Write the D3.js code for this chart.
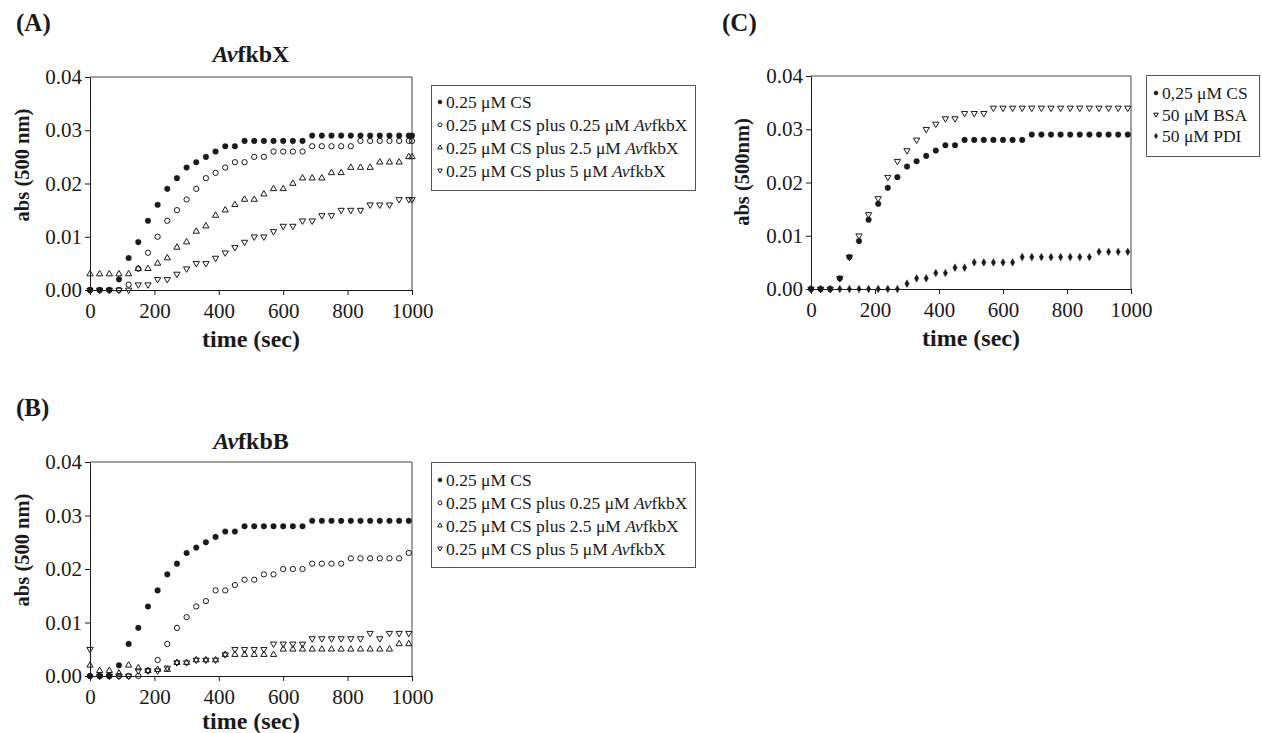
<!DOCTYPE html>
<html>
<head>
<meta charset="utf-8">
<script src="https://cdn.jsdelivr.net/npm/d3@7.9.0/dist/d3.min.js"></script>
<style>
  body { margin: 0; background: #fff; }
  svg { font-family: "Liberation Serif", "Times New Roman", serif; }
</style>
</head>
<body>
<svg id="chart" width="1262" height="733"></svg>
<script>
// sampling times (sec)
const times = [0, 30, 60, 90, 120, 150, 180, 210, 240, 270, 300, 330, 360, 390, 420, 450, 480,
  510, 540, 570, 600, 630, 660, 690, 720, 750, 780, 810, 840, 870, 900, 930, 960, 990];
const timesA = [0, 30, 60, 90, 120, 150, 180, 210, 240, 270, 300, 330, 360, 390, 420, 450, 480,
  510, 540, 570, 600, 630, 660, 690, 720, 750, 780, 810, 840, 870, 900, 930, 960, 990, 1000];

const xTicks = [0, 200, 400, 600, 800, 1000];
const yTicks = [0, 0.01, 0.02, 0.03, 0.04];

// (A) AvfkbX
const aCS = [0, 0, 0, 0.002, 0.006, 0.009, 0.013, 0.016, 0.019, 0.021, 0.023, 0.024, 0.025, 0.026, 0.027, 0.027,
  0.028, 0.028, 0.028, 0.028, 0.028, 0.028, 0.028,
  0.029, 0.029, 0.029, 0.029, 0.029, 0.029, 0.029, 0.029, 0.029, 0.029, 0.029, 0.029];
const aX025 = [0, 0, 0, 0, 0.001, 0.004, 0.007, 0.010, 0.013, 0.015, 0.017, 0.019, 0.021, 0.022, 0.023, 0.024,
  0.024, 0.025, 0.025, 0.026, 0.026, 0.026, 0.026, 0.027, 0.027, 0.027, 0.027, 0.027,
  0.028, 0.028, 0.028, 0.028, 0.028, 0.028, 0.028];
const aX25 = [0.003, 0.003, 0.003, 0.003, 0.003, 0.004, 0.004, 0.005, 0.006, 0.008, 0.009, 0.011, 0.012, 0.014,
  0.015, 0.016, 0.017, 0.017, 0.018, 0.019, 0.019, 0.020, 0.021, 0.021, 0.021, 0.022, 0.022, 0.023, 0.023,
  0.023, 0.024, 0.024, 0.024, 0.025, 0.025];
const aX5 = [0, 0, 0, 0, 0, 0.001, 0.001, 0.002, 0.002, 0.003, 0.004, 0.005, 0.005, 0.006, 0.007, 0.008, 0.009,
  0.010, 0.010, 0.011, 0.012, 0.012, 0.013, 0.013, 0.014, 0.014, 0.015, 0.015, 0.015, 0.016, 0.016, 0.016,
  0.017, 0.017, 0.017];

// (B) AvfkbB
const bCS = [0, 0, 0, 0.002, 0.006, 0.009, 0.013, 0.016, 0.019, 0.021, 0.023, 0.024, 0.025, 0.026, 0.027, 0.027,
  0.028, 0.028, 0.028, 0.028, 0.028, 0.028, 0.028,
  0.029, 0.029, 0.029, 0.029, 0.029, 0.029, 0.029, 0.029, 0.029, 0.029, 0.029];
const bX025 = [0, 0, 0, 0, 0, 0, 0.001, 0.003, 0.006, 0.009, 0.011, 0.013, 0.014, 0.016, 0.016, 0.017, 0.018,
  0.018, 0.019, 0.019, 0.020, 0.020, 0.020, 0.021, 0.021, 0.021, 0.021,
  0.022, 0.022, 0.022, 0.022, 0.022, 0.022, 0.023];
const bX25 = [0.002, 0.001, 0.001, 0.0005, 0.002, 0.0015, 0.001, 0.0012, 0.0012, 0.0025, 0.0025, 0.003, 0.003,
  0.003, 0.004, 0.004, 0.004, 0.004, 0.004, 0.004, 0.005, 0.005, 0.005, 0.005, 0.005, 0.005, 0.005, 0.005,
  0.005, 0.005, 0.005, 0.005, 0.006, 0.006];
const bX5 = [0.005, 0, 0, 0, 0, 0.001, 0.001, 0.001, 0.0015, 0.0025, 0.0025, 0.003, 0.003, 0.003, 0.004,
  0.005, 0.005, 0.005, 0.005, 0.006, 0.006, 0.006, 0.006, 0.007, 0.007, 0.007, 0.007, 0.007, 0.007,
  0.008, 0.007, 0.008, 0.008, 0.008];

// (C) controls
const cCS = [0, 0, 0, 0.002, 0.006, 0.009, 0.013, 0.016, 0.019, 0.021, 0.023, 0.024, 0.025, 0.026, 0.027, 0.027,
  0.028, 0.028, 0.028, 0.028, 0.028, 0.028, 0.028,
  0.029, 0.029, 0.029, 0.029, 0.029, 0.029, 0.029, 0.029, 0.029, 0.029, 0.029];
const cBSA = [0, 0, 0, 0.002, 0.006, 0.010, 0.014, 0.017, 0.021, 0.024, 0.026, 0.028, 0.030, 0.031, 0.032, 0.032,
  0.033, 0.033, 0.033, 0.034, 0.034, 0.034, 0.034, 0.034, 0.034, 0.034, 0.034, 0.034, 0.034, 0.034,
  0.034, 0.034, 0.034, 0.034];
const cPDI = [0, 0, 0, 0, 0, 0, 0, 0, 0, 0, 0.001, 0.002, 0.002, 0.003, 0.003, 0.004, 0.004,
  0.005, 0.005, 0.005, 0.005, 0.005, 0.006, 0.006, 0.006, 0.006, 0.006, 0.006, 0.006, 0.006,
  0.007, 0.007, 0.007, 0.007];

const labelsX = ['0.25 μM CS', '0.25 μM CS plus 0.25 μM AvfkbX',
  '0.25 μM CS plus 2.5 μM AvfkbX', '0.25 μM CS plus 5 μM AvfkbX'];
const labelsC = ['0,25 μM CS', '50 μM BSA', '50 μM PDI'];

const svg = d3.select('#chart');
const ink = '#1a1a1a';

// marker styles
const markers = {
  dot:  { type: d3.symbolCircle, size: 25, fill: true, rot: 0 },
  ring: { type: d3.symbolCircle, size: 22, fill: false, rot: 0 },
  up:   { type: d3.symbolTriangle, size: 17, fill: false, rot: 0 },
  down: { type: d3.symbolTriangle, size: 17, fill: false, rot: 180 },
  diam: { type: d3.symbolDiamond, size: 17, fill: true, rot: 0 }
};

function drawMark(g, m, x, y, scale = 1) {
  g.append('path')
    .attr('d', d3.symbol().type(m.type).size(m.size * scale)())
    .attr('transform', `translate(${x},${y}) rotate(${m.rot})`)
    .attr('fill', m.fill ? ink : 'none')
    .attr('stroke', ink)
    .attr('stroke-width', m.fill ? 0.4 : 1);
}

// text with "Av" in italics
function richText(sel, str) {
  str.split(/(Av)/).filter(s => s).forEach(s => {
    sel.append('tspan').text(s).attr('font-style', s === 'Av' ? 'italic' : null);
  });
}

const panels = [
  {
    box: [90, 412, 77, 290], times: timesA, xTitleOff: 57,
    series: [[aX5, 'down'], [aX25, 'up'], [aX025, 'ring'], [aCS, 'dot']],
    tag: '(A)', tagPos: [16, 31], title: 'AvfkbX', titleY: 62,
    yTitle: 'abs (500 nm)', yTitlePos: [22, 165],
    legend: { x: 431, y: 85, w: 264, h: 105, row0: 102, step: 22.8, mx: 440, tx: 446,
      items: [[labelsX[0], 'dot'], [labelsX[1], 'ring'], [labelsX[2], 'up'], [labelsX[3], 'down']] }
  },
  {
    box: [90, 412, 462, 676], times: times, xTitleOff: 53,
    series: [[bX5, 'down'], [bX25, 'up'], [bX025, 'ring'], [bCS, 'dot']],
    tag: '(B)', tagPos: [16, 416], title: 'AvfkbB', titleY: 449,
    yTitle: 'abs (500 nm)', yTitlePos: [22, 550],
    legend: { x: 431, y: 462, w: 264, h: 105, row0: 480, step: 22.8, mx: 440, tx: 446,
      items: [[labelsX[0], 'dot'], [labelsX[1], 'ring'], [labelsX[2], 'up'], [labelsX[3], 'down']] }
  },
  {
    box: [811, 1131, 76, 289], times: times, xTitleOff: 57,
    series: [[cBSA, 'down'], [cPDI, 'diam'], [cCS, 'dot']],
    tag: '(C)', tagPos: [722, 31], title: null,
    yTitle: 'abs (500nm)', yTitlePos: [742, 172],
    legend: { x: 1146, y: 75, w: 113, h: 81, row0: 93, step: 21.5, mx: 1156, tx: 1162,
      items: [[labelsC[0], 'dot'], [labelsC[1], 'down'], [labelsC[2], 'diam']] }
  }
];

panels.forEach(p => {
  const [x0, x1, y0, y1] = p.box;
  const x = d3.scaleLinear().domain([0, 1000]).range([x0, x1]);
  const y = d3.scaleLinear().domain([0, 0.04]).range([y1, y0]);
  const g = svg.append('g');

  // frame (top and right)
  g.append('path')
    .attr('d', `M${x0},${y0}H${x1}V${y1}`)
    .attr('fill', 'none').attr('stroke', '#444').attr('stroke-width', 1);

  const xAxis = g.append('g')
    .attr('transform', `translate(0,${y1})`)
    .call(d3.axisBottom(x).tickValues(xTicks).tickFormat(d3.format('d'))
      .tickSize(5).tickPadding(8).tickSizeOuter(0));
  const yAxis = g.append('g')
    .attr('transform', `translate(${x0},0)`)
    .call(d3.axisLeft(y).tickValues(yTicks).tickFormat(d3.format('.2f'))
      .tickSize(5).tickPadding(3).tickSizeOuter(0));
  [xAxis, yAxis].forEach(a => {
    a.select('.domain').attr('stroke', ink);
    a.selectAll('.tick line').attr('stroke', ink);
    a.selectAll('text').attr('font-size', 21).attr('fill', ink)
      .attr('font-family', '"Liberation Serif", serif');
  });

  // data marks
  p.series.forEach(([vals, key]) => {
    const sg = g.append('g');
    vals.forEach((v, i) => drawMark(sg, markers[key], x(p.times[i]), y(v)));
  });

  // axis titles
  g.append('text')
    .attr('x', (x0 + x1) / 2).attr('y', y1 + p.xTitleOff)
    .attr('text-anchor', 'middle').attr('font-size', 24).attr('font-weight', 'bold').attr('fill', ink)
    .text('time (sec)');
  g.append('text')
    .attr('transform', `translate(${p.yTitlePos[0]},${p.yTitlePos[1]}) rotate(-90)`)
    .attr('dy', '0.35em')
    .attr('text-anchor', 'middle').attr('font-size', 20.5).attr('font-weight', 'bold').attr('fill', ink)
    .text(p.yTitle);

  g.append('text')
    .attr('x', p.tagPos[0]).attr('y', p.tagPos[1])
    .attr('font-size', 25).attr('font-weight', 'bold').attr('fill', ink)
    .text(p.tag);

  if (p.title) {
    const t = g.append('text')
      .attr('x', (x0 + x1) / 2).attr('y', p.titleY)
      .attr('text-anchor', 'middle').attr('font-size', 24).attr('font-weight', 'bold').attr('fill', ink);
    richText(t, p.title);
  }

  // legend
  const L = p.legend;
  const lg = g.append('g');
  lg.append('rect')
    .attr('x', L.x + 0.5).attr('y', L.y + 0.5).attr('width', L.w).attr('height', L.h)
    .attr('fill', 'none').attr('stroke', '#555').attr('stroke-width', 1);
  L.items.forEach(([label, key], i) => {
    const cy = L.row0 + i * L.step;
    drawMark(lg, markers[key], L.mx, cy, 0.55);
    const t = lg.append('text')
      .attr('x', L.tx).attr('y', cy).attr('dy', '0.35em')
      .attr('font-size', 17.5).attr('fill', ink);
    richText(t, label);
  });
});
</script>
</body>
</html>
